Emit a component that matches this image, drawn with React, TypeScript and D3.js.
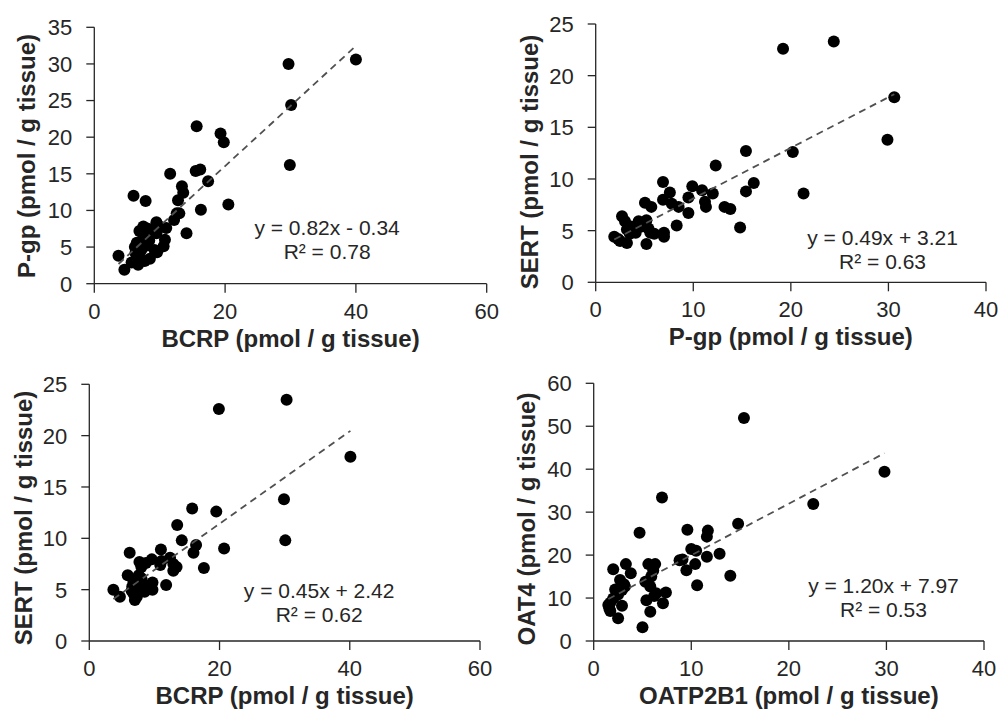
import React from "react";
import * as d3 from "d3";

// ---- Data ----
const bcrpVsPgp: [number, number][] = [
  [3.7, 3.8], [4.6, 1.9], [5.7, 2.9], [6.0, 12.0], [6.2, 5.0], [6.3, 4.2], [6.5, 5.6], [6.7, 2.6],
  [6.9, 7.2], [7.0, 3.3], [7.2, 4.6], [7.5, 6.3], [7.5, 7.8], [7.7, 3.1], [7.85, 11.3], [8.0, 5.2],
  [8.2, 7.5], [8.4, 5.9], [8.5, 3.4], [8.8, 7.4], [9.2, 4.6], [9.5, 8.4], [9.5, 6.9], [9.6, 4.3],
  [10.0, 7.8], [10.6, 5.1], [10.8, 6.0], [11.0, 7.6], [11.6, 15.0], [12.2, 8.7], [12.6, 9.6], [12.8, 11.4],
  [13.0, 9.6], [13.4, 13.3], [13.6, 12.4], [14.1, 6.9], [15.5, 15.4], [15.65, 21.5], [16.2, 15.6], [16.3, 10.1],
  [17.4, 14.0], [19.3, 20.5], [19.8, 19.3], [20.5, 10.8], [29.7, 30.0], [29.9, 16.2], [30.1, 24.4], [40.0, 30.6],
];

const pgpVsSert: [number, number][] = [
  [1.9, 4.4], [2.3, 4.2], [2.5, 4.0], [2.7, 6.4], [3.0, 5.9], [3.2, 3.8], [3.2, 5.1], [3.5, 4.7],
  [3.6, 5.4], [3.9, 5.1], [4.1, 4.8], [4.4, 5.9], [4.7, 5.4], [4.9, 5.7], [5.05, 7.7], [5.2, 6.0],
  [5.2, 3.7], [5.4, 5.2], [5.6, 4.8], [5.7, 7.3], [6.0, 4.7], [6.9, 9.7], [6.9, 8.0], [7.0, 4.8],
  [7.0, 4.4], [7.6, 8.7], [7.8, 7.6], [8.3, 5.5], [8.5, 7.3], [9.5, 8.2], [9.5, 6.7], [9.9, 9.3],
  [10.9, 8.9], [11.2, 7.8], [11.3, 7.3], [12.0, 8.6], [12.3, 11.3], [13.2, 7.3], [13.8, 7.1], [14.8, 5.3],
  [15.4, 12.7], [15.4, 8.8], [16.2, 9.6], [19.2, 22.6], [20.2, 12.6], [21.3, 8.6], [24.4, 23.3], [29.9, 13.8],
  [30.6, 17.9],
];

const bcrpVsSert: [number, number][] = [
  [3.7, 5.0], [4.7, 4.3], [5.9, 6.4], [6.2, 8.6], [6.5, 4.9], [6.6, 5.3], [6.8, 4.6], [6.8, 5.8],
  [7.0, 4.0], [7.0, 6.0], [7.2, 5.6], [7.3, 4.3], [7.4, 4.7], [7.5, 5.0], [7.6, 6.4], [7.7, 7.7],
  [7.8, 5.9], [8.0, 7.2], [8.0, 6.1], [8.2, 5.6], [8.3, 5.3], [8.5, 4.8], [8.7, 7.6], [9.0, 5.3],
  [9.6, 7.95], [9.7, 5.7], [9.7, 5.0], [10.9, 7.4], [11.0, 8.9], [11.1, 7.8], [11.8, 5.45], [12.4, 8.1],
  [12.9, 7.5], [12.9, 6.85], [13.4, 7.2], [13.5, 11.3], [14.2, 9.8], [15.8, 12.9], [16.0, 8.6], [16.4, 9.35],
  [17.6, 7.1], [19.5, 12.6], [19.9, 22.6], [20.7, 9.0], [29.9, 13.8], [30.1, 9.8], [30.3, 23.5], [40.1, 17.95],
];

const oatp2b1VsOat4: [number, number][] = [
  [1.5, 8.4], [1.6, 7.6], [1.7, 7.0], [1.7, 8.9], [2.0, 9.9], [2.0, 16.7], [2.2, 12.0], [2.5, 5.3],
  [2.5, 10.8], [2.7, 14.2], [2.9, 11.9], [2.9, 8.2], [3.1, 13.2], [3.2, 12.7], [3.3, 17.9], [3.8, 15.8],
  [4.7, 25.2], [5.0, 3.2], [5.3, 13.8], [5.4, 9.5], [5.6, 17.9], [5.8, 12.7], [5.8, 6.8], [5.9, 15.0],
  [6.1, 16.4], [6.3, 17.9], [6.2, 10.5], [6.4, 11.1], [7.0, 33.4], [7.1, 8.8], [7.4, 11.3], [8.8, 18.8],
  [9.1, 19.0], [9.5, 16.5], [9.6, 25.9], [10.0, 21.4], [10.4, 17.9], [10.5, 21.0], [10.6, 13.0], [11.6, 24.3],
  [11.6, 19.6], [11.7, 25.7], [12.9, 20.3], [14.0, 15.2], [14.8, 27.3], [15.4, 51.9], [22.5, 31.9], [29.8, 39.4],
];

const xTitles = ["BCRP (pmol / g tissue)", "P-gp (pmol / g tissue)", "BCRP (pmol / g tissue)", "OATP2B1 (pmol / g tissue)"];
const yTitles = ["P-gp (pmol / g tissue)", "SERT (pmol / g tissue)", "SERT (pmol / g tissue)", "OAT4 (pmol / g tissue)"];
const equations = ["y = 0.82x - 0.34", "y = 0.49x + 3.21", "y = 0.45x + 2.42", "y = 1.20x + 7.97"];
const rSquared = ["R² = 0.78", "R² = 0.63", "R² = 0.62", "R² = 0.53"];
const slopes = [0.82, 0.49, 0.45, 1.2];
const intercepts = [-0.34, 3.21, 2.42, 7.97];
const xTicksA = [0, 20, 40, 60];
const xTicksB = [0, 10, 20, 30, 40];
const yTicksP1 = [0, 5, 10, 15, 20, 25, 30, 35];
const yTicksSert = [0, 5, 10, 15, 20, 25];
const yTicksOat4 = [0, 10, 20, 30, 40, 50, 60];
// equation anchor in data units
const eqAnchors: [number, number][] = [[35.6, 6.65], [29.4, 3.6], [35.3, 4.2], [29.7, 11.2]];

// ---- Layout ----
const panels = [
  { data: bcrpVsPgp, xTicks: xTicksA, yTicks: yTicksP1, xr: [94.3, 486.7], yr: [283.7, 27.3], yTitleX: 35, yTitleC: 156 },
  { data: pgpVsSert, xTicks: xTicksB, yTicks: yTicksSert, xr: [595.7, 986], yr: [282.3, 24], yTitleX: 538, yTitleC: 162 },
  { data: bcrpVsSert, xTicks: xTicksA, yTicks: yTicksSert, xr: [89.3, 480], yr: [641, 384.3], yTitleX: 32, yTitleC: 518 },
  { data: oatp2b1VsOat4, xTicks: xTicksB, yTicks: yTicksOat4, xr: [593.7, 984], yr: [641, 383.3], yTitleX: 535, yTitleC: 519 },
];

const FONT = "'Liberation Sans', Arial, sans-serif";
const AXIS = "#262626";

function Panel({ i }: { i: number }) {
  const p = panels[i];
  const x = d3.scaleLinear().domain([p.xTicks[0], p.xTicks[p.xTicks.length - 1]]).range(p.xr);
  const y = d3.scaleLinear().domain([p.yTicks[0], p.yTicks[p.yTicks.length - 1]]).range(p.yr);
  const [x0, x1] = x.range();
  const [y0, y1] = y.range();
  const xs = p.data.map((d) => d[0]);
  const xmin = d3.min(xs) as number;
  const xmax = d3.max(xs) as number;
  const fit = (v: number) => slopes[i] * v + intercepts[i];
  const line = d3.line<number>().x((v) => x(v)).y((v) => y(fit(v)));
  const [ax, ay] = eqAnchors[i];
  return (
    <g>
      {/* axes */}
      <line x1={x0} x2={x0} y1={y0} y2={y1} stroke={AXIS} strokeWidth={1.3} />
      <line x1={x0} x2={x1} y1={y0} y2={y0} stroke={AXIS} strokeWidth={1.3} />
      {p.yTicks.map((t) => (
        <g key={"y" + t}>
          <line x1={x0 - 8} x2={x0} y1={y(t)} y2={y(t)} stroke={AXIS} strokeWidth={1.3} />
          <text x={x0 - 22} y={y(t)} dy="0.36em" textAnchor="end" fontSize={22} fontFamily={FONT} fill="#262626">{t}</text>
        </g>
      ))}
      {p.xTicks.map((t) => (
        <g key={"x" + t}>
          <line x1={x(t)} x2={x(t)} y1={y0} y2={y0 + 9} stroke={AXIS} strokeWidth={1.3} />
          <text x={x(t)} y={y0 + 35} textAnchor="middle" fontSize={22} fontFamily={FONT} fill="#262626">{t}</text>
        </g>
      ))}
      {/* titles */}
      <text x={(x0 + x1) / 2} y={y0 + 63} textAnchor="middle" fontSize={24} fontWeight="bold" fontFamily={FONT} fill="#262626">{xTitles[i]}</text>
      <text transform={`translate(${p.yTitleX},${p.yTitleC}) rotate(-90)`} textAnchor="middle" fontSize={24} fontWeight="bold" fontFamily={FONT} fill="#262626">{yTitles[i]}</text>
      {/* points */}
      {p.data.map((d, k) => (
        <circle key={k} cx={x(d[0])} cy={y(d[1])} r={6} fill="#000" />
      ))}
      {/* trendline */}
      <path d={line([xmin, xmax]) || ""} fill="none" stroke="#505050" strokeWidth={1.8} strokeDasharray="7,5" />
      {/* equation */}
      <text x={x(ax)} y={y(ay)} textAnchor="middle" fontSize={21} fontFamily={FONT} fill="#262626">{equations[i]}</text>
      <text x={x(ax)} y={y(ay) + 24} textAnchor="middle" fontSize={21} fontFamily={FONT} fill="#262626">{rSquared[i]}</text>
    </g>
  );
}

export default function App() {
  return (
    <svg width={1004} height={719} style={{ position: "absolute", left: 0, top: 0, background: "#fff" }}>
      <rect width={1004} height={719} fill="#fff" />
      {panels.map((_, i) => (
        <Panel key={i} i={i} />
      ))}
    </svg>
  );
}
